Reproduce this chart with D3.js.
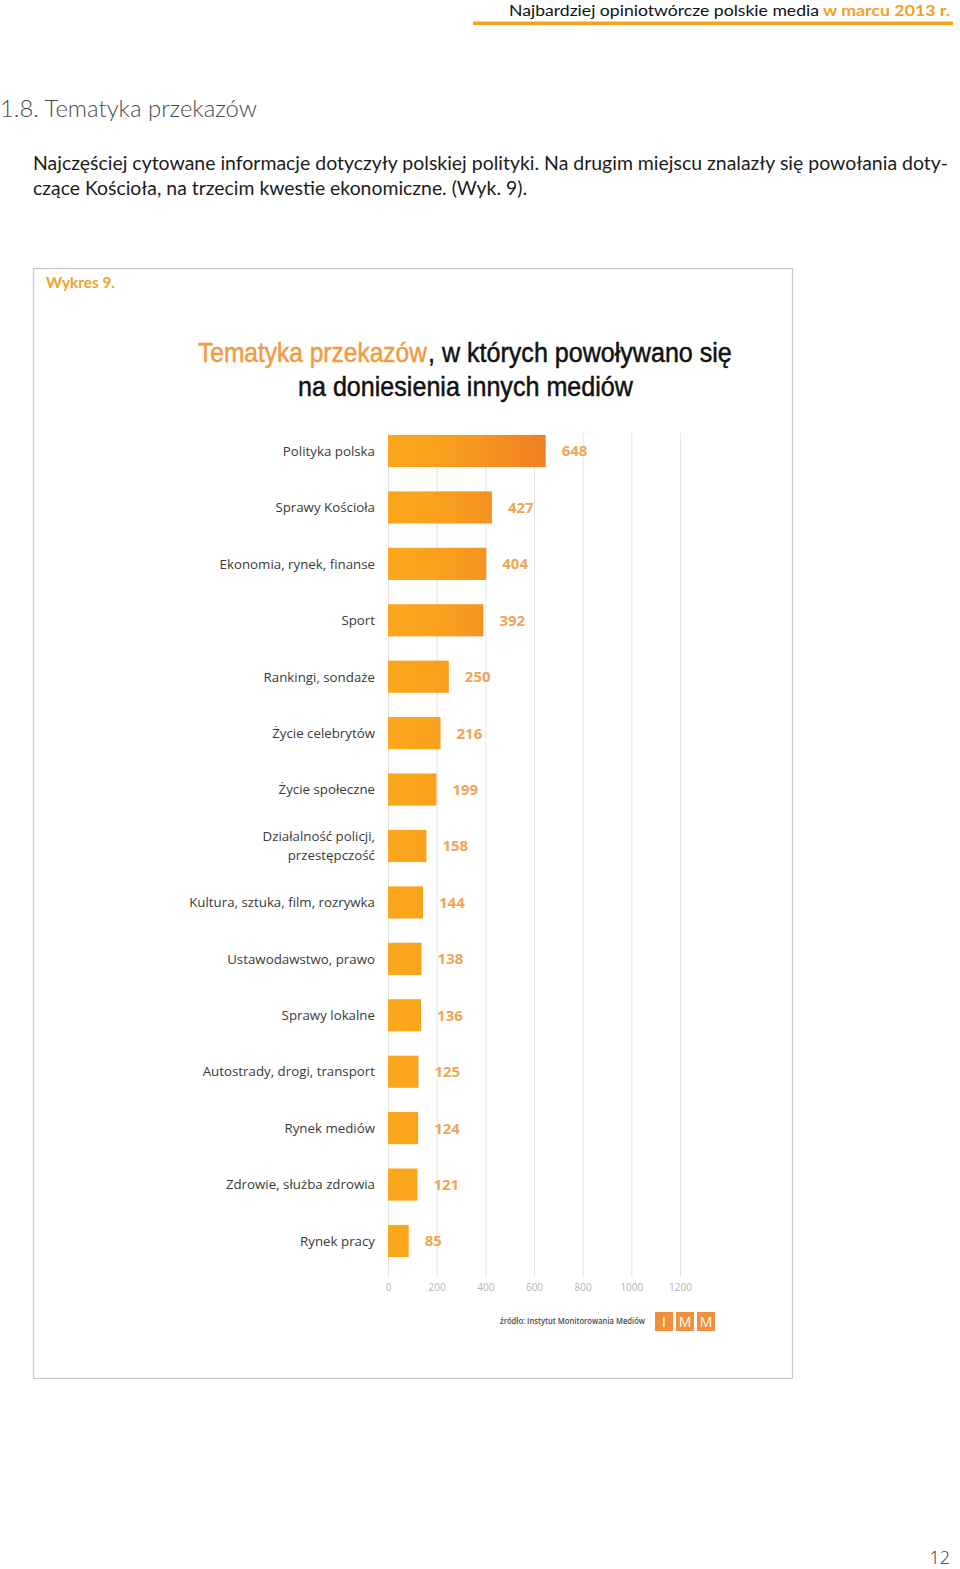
<!DOCTYPE html>
<html><head><meta charset="utf-8">
<script src="https://cdn.jsdelivr.net/npm/d3@7"></script>
<style>body{margin:0;background:#fff}svg{display:block}</style>
</head><body>
<svg id="page" width="960" height="1569"></svg>
<script>
const categories = [
  "Polityka polska","Sprawy Kościoła","Ekonomia, rynek, finanse","Sport","Rankingi, sondaże",
  "Życie celebrytów","Życie społeczne","Działalność policji,|przestępczość","Kultura, sztuka, film, rozrywka",
  "Ustawodawstwo, prawo","Sprawy lokalne","Autostrady, drogi, transport","Rynek mediów",
  "Zdrowie, służba zdrowia","Rynek pracy"];
const values = [648,427,404,392,250,216,199,158,144,138,136,125,124,121,85];
const tickValues = [0,200,400,600,800,1000,1200];

const svg = d3.select("#page");
const fitText = (sel, w) => sel.attr("textLength", w).attr("lengthAdjust", "spacingAndGlyphs");
// scale a text horizontally so that its real box has width w, starting at (x, y)
const fitScale = (sel, x, y, w) => {
  sel.attr("x", 0).attr("y", 0);
  const L = sel.node().getComputedTextLength();
  sel.attr("transform", `translate(${x},${y}) scale(${w / L},1)`);
  return sel;
};

// Header
const hStyle = s => s.style("font-family","Lato, 'Open Sans', sans-serif").style("font-size","15.5px");
fitText(hStyle(svg.append("text").attr("x",509).attr("y",16).attr("fill","#111")
  .text("Najbardziej opiniotwórcze polskie media")), 310);
fitText(hStyle(svg.append("text").attr("x",823).attr("y",16).attr("fill","#f2a02a").style("font-weight","bold")
  .text("w marcu 2013 r.")), 127);
svg.append("rect").attr("x",473).attr("y",21.5).attr("width",480).attr("height",3.5).attr("fill","#f7a21b");

// Section heading
fitText(svg.append("text").attr("x",0).attr("y",117).text("1.8. Tematyka przekazów")
  .style("font-family","Lato, sans-serif").style("font-weight","300").style("font-size","23px").attr("fill","#4a4a4a"), 257);

// Paragraph
const pStyle = s => s.style("font-family","Lato, sans-serif").style("font-size","18.5px").attr("fill","#1c1c1c");
fitText(pStyle(svg.append("text").attr("x",33).attr("y",170)
  .text("Najczęściej cytowane informacje dotyczyły polskiej polityki. Na drugim miejscu znalazły się powołania doty-")), 915);
fitText(pStyle(svg.append("text").attr("x",33).attr("y",195)
  .text("czące Kościoła, na trzecim kwestie ekonomiczne. (Wyk. 9).")), 494);

// Frame
svg.append("rect").attr("x",33.5).attr("y",268.5).attr("width",759).attr("height",1110)
  .attr("fill","none").attr("stroke","#c9c9c9").attr("stroke-width",1.2);
fitText(svg.append("text").attr("x",46).attr("y",288).text("Wykres 9.")
  .style("font-family","Lato, sans-serif").style("font-weight","bold").style("font-size","14.5px").attr("fill","#eba42c"), 69);

// Chart title
const tStyle = s => s.style("font-family","'Liberation Sans Narrow','Liberation Sans',sans-serif")
  .style("font-size","27px").attr("stroke-width",0.5);
fitScale(tStyle(svg.append("text").text("Tematyka przekazów")
  .attr("fill","#f29a3e").attr("stroke","#f29a3e")), 198, 362, 229);
fitScale(tStyle(svg.append("text").text(", w których powoływano się")
  .attr("fill","#111").attr("stroke","#111")), 428, 362, 304);
fitScale(tStyle(svg.append("text").text("na doniesienia innych mediów")
  .attr("fill","#111").attr("stroke","#111")), 298, 396, 335);

// Scales
const x = d3.scaleLinear().domain([0,1200]).range([388,680]);
const y = d3.scaleBand().domain(categories).range([422.8,1269.2]).paddingInner(0.43).paddingOuter(0.215);

// gradient
const defs = svg.append("defs");
const grad = defs.append("linearGradient").attr("id","barGrad").attr("gradientUnits","userSpaceOnUse")
  .attr("x1",x(0)).attr("x2",x(648)).attr("y1",0).attr("y2",0);
grad.append("stop").attr("offset","0%").attr("stop-color","#fba81c");
grad.append("stop").attr("offset","35%").attr("stop-color","#f9a01d");
grad.append("stop").attr("offset","100%").attr("stop-color","#ef7f23");

// gridlines
svg.append("g").selectAll("line").data(tickValues).join("line")
  .attr("x1",d=>x(d)+0.5).attr("x2",d=>x(d)+0.5).attr("y1",433).attr("y2",1277)
  .attr("stroke","#e6e6e6").attr("stroke-width",1);

// axis tick labels
const axis = svg.append("g").attr("transform","translate(0,1276)")
  .call(d3.axisBottom(x).tickValues(tickValues).tickSize(0).tickPadding(8).tickFormat(d3.format("d")));
axis.select(".domain").remove();
axis.selectAll("text").style("font-family","'Open Sans', sans-serif").style("font-size","10px").attr("fill","#b3b3b3");

// bars
svg.append("g").selectAll("rect").data(values).join("rect")
  .attr("x",x(0)).attr("y",(d,i)=>y(categories[i])).attr("width",d=>x(d)-x(0)).attr("height",y.bandwidth())
  .attr("fill","url(#barGrad)");

// value labels
svg.append("g").selectAll("text").data(values).join("text")
  .attr("x",d=>x(d)+16).attr("y",(d,i)=>y(categories[i])+y.bandwidth()/2).attr("dy","0.36em")
  .text(d=>d).style("font-family","'Open Sans', sans-serif").style("font-weight","bold")
  .style("font-size","15px").attr("fill","#f0a456");

// category labels
const cl = svg.append("g").selectAll("text").data(categories).join("text")
  .attr("x",375).attr("y",d=>y(d)+y.bandwidth()/2)
  .attr("text-anchor","end").style("font-family","'Open Sans', sans-serif").style("font-size","13.3px").attr("fill","#3a3a3a");
cl.each(function(d){
  const parts = d.split("|"); const el = d3.select(this);
  parts.forEach((p,j)=>{
    el.append("tspan").attr("x",375)
      .attr("dy", j===0 ? (parts.length===1 ? "0.36em" : (0.36 - 0.7*(parts.length-1)) + "em") : "1.4em").text(p);
  });
});

// source
fitText(svg.append("text").attr("x",500).attr("y",1324).text("źródło: Instytut Monitorowania Mediów")
  .style("font-family","'Open Sans', sans-serif").style("font-size","8px").style("font-weight","600").attr("fill","#4a4a4a"), 145);
const logo = ["I","M","M"];
const lg = svg.append("g").selectAll("g").data(logo).join("g")
  .attr("transform",(d,i)=>`translate(${655+i*21},1312)`);
lg.append("rect").attr("width",18).attr("height",19).attr("fill","#f0903c");
lg.append("text").attr("x",9).attr("y",15).attr("text-anchor","middle").text(d=>d)
  .style("font-family","'Open Sans', sans-serif").style("font-size","14px").attr("fill","#fff");

// page number
svg.append("text").attr("x",950).attr("y",1564).attr("text-anchor","end").text("12")
  .style("font-family","'Open Sans', sans-serif").style("font-weight","300").style("font-size","18px").attr("fill","#333");
</script>
</body></html>
